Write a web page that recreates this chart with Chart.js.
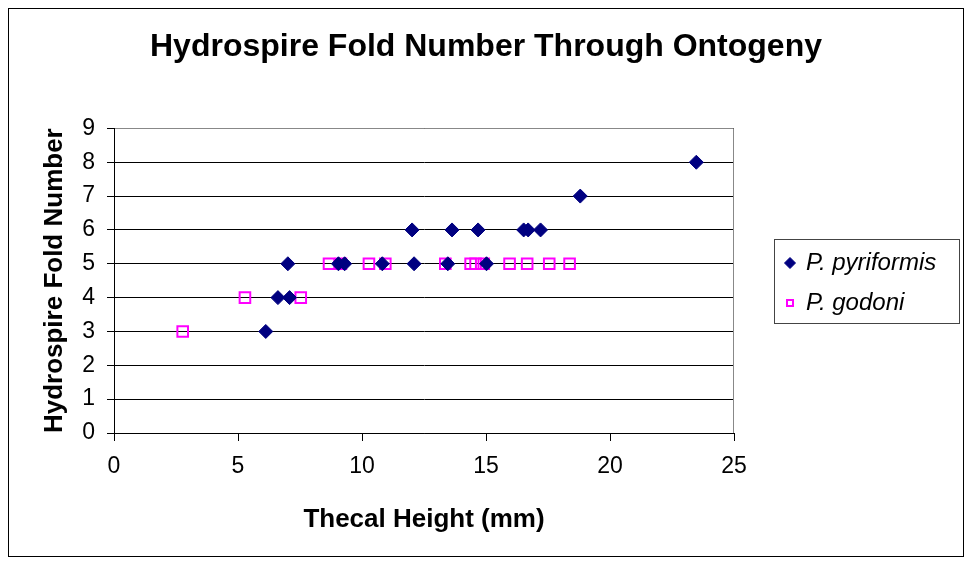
<!DOCTYPE html>
<html>
<head>
<meta charset="utf-8">
<script src="https://cdn.jsdelivr.net/npm/chart.js@4/dist/chart.umd.min.js"></script>
<style>
  html, body { margin: 0; padding: 0; background: #fff; }
  #wrap { width: 972px; height: 565px; }
</style>
</head>
<body>
<div id="wrap"><canvas id="chart" width="972" height="565"></canvas></div>
<script>
// data
const pyriX = [6.12, 6.61, 7.08, 7.01, 9.05, 9.3, 10.82, 12.02, 12.1, 13.46, 13.63, 14.68, 15.02, 16.52, 16.7, 17.2, 18.8, 23.48];
const pyriY = [3, 4, 4, 5, 5, 5, 5, 6, 5, 5, 6, 6, 5, 6, 6, 6, 7, 8];

const godoniX = [2.77, 5.28, 7.53, 8.67, 9.15, 10.28, 10.94, 13.36, 14.38, 14.58, 14.91, 15.95, 16.66, 17.55, 18.37];
const godoniY = [3, 4, 4, 5, 5, 5, 5, 5, 5, 5, 5, 5, 5, 5, 5];

const seriesNames = ["P. pyriformis", "P. godoni"];
const xTicks = [0, 5, 10, 15, 20, 25];
const yTicks = [0, 1, 2, 3, 4, 5, 6, 7, 8, 9];

const FONT = "Liberation Sans, Arial, sans-serif";

const toPoints = (xs, ys) => xs.map((x, i) => ({ x: x, y: ys[i] }));

// outer frame, grey plot frame and a hand drawn legend box
const framePlugin = {
  id: "frames",
  beforeDraw(chart) {
    const ctx = chart.ctx;
    ctx.save();
    ctx.fillStyle = "#fff";
    ctx.fillRect(0, 0, chart.width, chart.height);
    ctx.strokeStyle = "#000";
    ctx.lineWidth = 1;
    ctx.strokeRect(8.5, 8.5, 955, 548);
    ctx.restore();
  },
  afterDraw(chart) {
    const ctx = chart.ctx;
    const a = chart.chartArea;
    ctx.save();
    ctx.strokeStyle = "#888";
    ctx.lineWidth = 1;
    ctx.beginPath();
    ctx.moveTo(a.left + 1, Math.round(a.top) + 0.5);
    ctx.lineTo(Math.round(a.right) - 0.5, Math.round(a.top) + 0.5);
    ctx.lineTo(Math.round(a.right) - 0.5, a.bottom);
    ctx.stroke();

    // legend
    ctx.strokeStyle = "#444";
    ctx.strokeRect(774.5, 239.5, 185, 84);
    ctx.font = "italic 24px " + FONT;
    ctx.textBaseline = "alphabetic";
    const rows = [270, 310];
    chart.data.datasets.forEach((ds, i) => {
      const cy = rows[i] - 7;
      ctx.fillStyle = ds.backgroundColor;
      ctx.strokeStyle = ds.borderColor;
      ctx.lineWidth = ds.borderWidth;
      if (ds.pointStyle === "rect") {
        ctx.strokeRect(787, cy - 3, 6, 6);
      } else {
        Chart.helpers.drawPoint(ctx, { pointStyle: ds.pointStyle, radius: 5.5, rotation: 0, borderWidth: 1 }, 790, cy);
      }
      ctx.fillStyle = "#000";
      ctx.fillText(ds.label, 806, rows[i]);
    });
    ctx.restore();
  }
};

new Chart(document.getElementById("chart"), {
  type: "scatter",
  plugins: [framePlugin],
  data: {
    datasets: [
      {
        label: seriesNames[0],
        data: toPoints(pyriX, pyriY),
        pointStyle: "rectRot",
        pointRadius: 7,
        backgroundColor: "#000080",
        borderColor: "#000080",
        borderWidth: 1,
      },
      {
        label: seriesNames[1],
        data: toPoints(godoniX, godoniY),
        pointStyle: "rect",
        pointRadius: 7.5,
        backgroundColor: "rgba(0,0,0,0)",
        borderColor: "#ff00ff",
        borderWidth: 2,
      },
    ],
  },
  options: {
    responsive: false,
    animation: false,
    layout: { padding: { left: 0, right: 0, top: 0, bottom: 0 } },
    plugins: {
      tooltip: { enabled: false },
      legend: { display: false },
      title: {
        display: true,
        text: "Hydrospire Fold Number Through Ontogeny",
        color: "#000",
        font: { family: FONT, size: 32, weight: "bold" },
        padding: { top: 28, bottom: 62 },
      },
    },
    scales: {
      x: {
        type: "linear",
        min: 0,
        max: 25,
        afterBuildTicks: (axis) => { axis.ticks = xTicks.map((v) => ({ value: v })); },
        afterFit: (axis) => { axis.height = 132; },
        grid: { drawOnChartArea: false, color: "#000", tickLength: 8 },
        border: { color: "#000" },
        ticks: { color: "#000", font: { family: FONT, size: 23 }, padding: 12 },
        title: {
          display: true,
          text: "Thecal Height (mm)",
          color: "#000",
          font: { family: FONT, size: 26, weight: "bold" },
          padding: { top: 0, bottom: 30 },
        },
      },
      y: {
        type: "linear",
        min: 0,
        max: 9,
        afterBuildTicks: (axis) => { axis.ticks = yTicks.map((v) => ({ value: v })); },
        afterFit: (axis) => { axis.width = 114; },
        grid: { color: "#000", tickLength: 7 },
        border: { color: "#000" },
        ticks: { color: "#000", font: { family: FONT, size: 23 }, padding: 12 },
        title: {
          display: true,
          text: "Hydrospire Fold Number",
          color: "#000",
          font: { family: FONT, size: 26, weight: "bold" },
          padding: { top: 39, bottom: 0 },
        },
      },
      // empty right-hand axis that keeps room for the legend
      yRight: {
        type: "linear",
        position: "right",
        min: 0,
        max: 9,
        afterFit: (axis) => { axis.width = 238; },
        grid: { display: false },
        border: { display: false },
        ticks: { display: false },
      },
    },
  },
});
</script>
</body>
</html>
